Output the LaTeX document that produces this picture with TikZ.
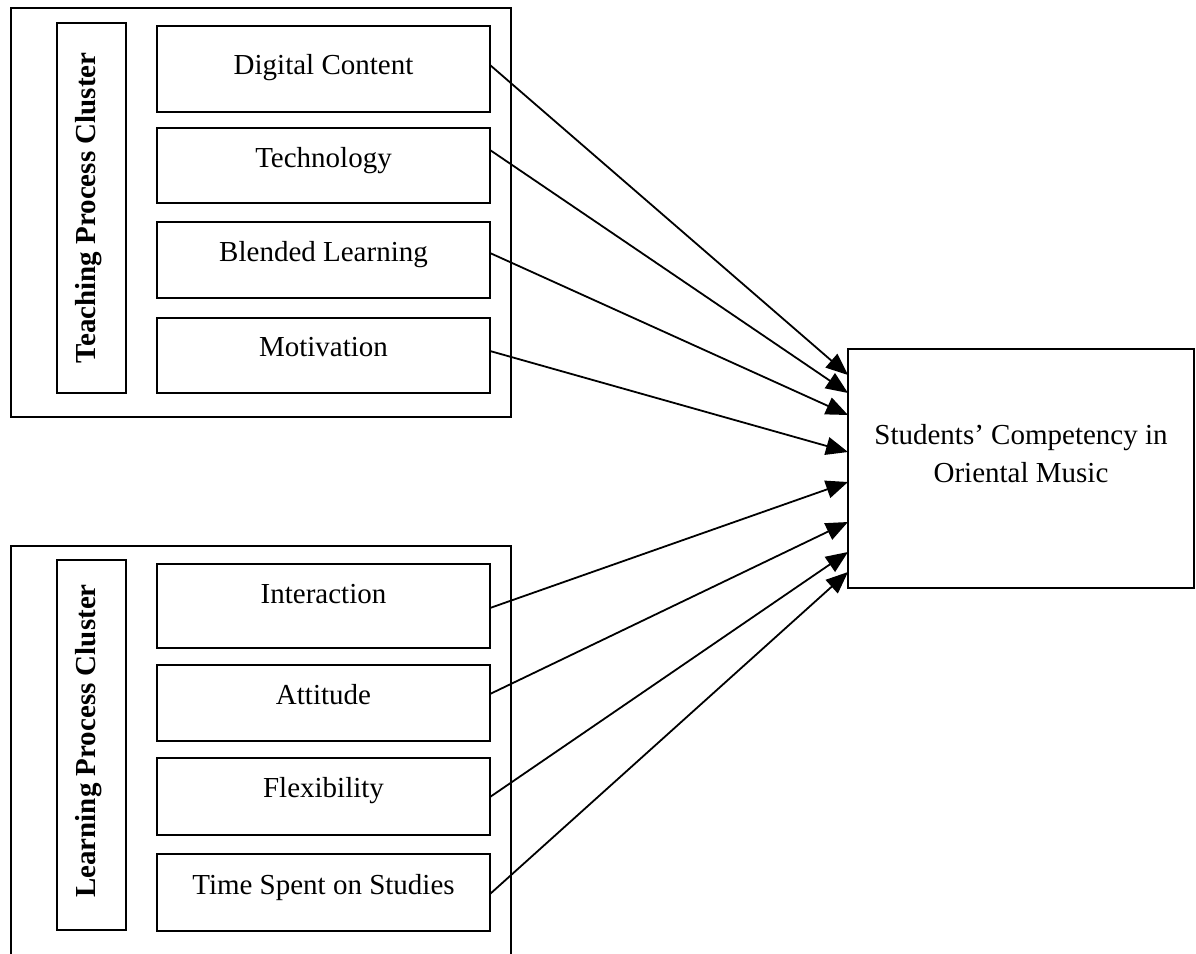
\documentclass[tikz,border=0pt]{standalone}
\usepackage{fontspec}
\setmainfont{Liberation Serif}
\usetikzlibrary{arrows.meta}

\tikzset{
  box/.style={draw, line width=1.8pt, rectangle, inner sep=0pt, outer sep=0pt},
  item/.style={box, minimum width=333pt, font=\fontsize{29}{38}\selectfont},
  labelbox/.style={box, minimum width=69pt, minimum height=370pt},
  cluster/.style={font=\fontsize{29}{38}\selectfont\bfseries, rotate=90, anchor=base, inner sep=0pt},
  arr/.style={line width=1.8pt, -{Triangle[length=22pt,width=18pt]}}
}

\begin{document}
\begin{tikzpicture}[x=1pt, y=-1pt]
\clip (0,0) rectangle (1196,953);
\fill[white] (0,0) rectangle (1196,953);

% Teaching process cluster
\node[box, minimum width=500pt, minimum height=409pt] (tframe) at (261,212.5) {};
\node[labelbox] (tlab) at (91.5,208) {};
\node[cluster] (tlabtext) at (95,208) {Teaching Process Cluster};
\node[item, minimum height=86pt, text height=48pt, text depth=38pt] (dc) at (323.5,69) {Digital Content};
\node[item, minimum height=75pt, text height=39pt, text depth=36pt] (tech) at (323.5,165.5) {Technology};
\node[item, minimum height=76pt, text height=39pt, text depth=37pt] (blend) at (323.5,260) {Blended Learning};
\node[item, minimum height=75pt, text height=38pt, text depth=37pt] (motiv) at (323.5,355.5) {Motivation};

% Learning process cluster
\node[box, minimum width=500pt, minimum height=429pt] (bframe) at (261,760.5) {};
\node[labelbox] (blab) at (91.5,745) {};
\node[cluster] (blabtext) at (95,741) {Learning Process Cluster};
\node[item, minimum height=84pt, text height=39pt, text depth=45pt] (inter) at (323.5,606) {Interaction};
\node[item, minimum height=76pt, text height=39pt, text depth=37pt] (att) at (323.5,703) {Attitude};
\node[item, minimum height=77pt, text height=39pt, text depth=38pt] (flex) at (323.5,796.5) {Flexibility};
\node[item, minimum height=77pt, text height=40pt, text depth=37pt] (time) at (323.5,892.5) {Time Spent on Studies};

% Outcome
\node[box, minimum width=346pt, minimum height=239pt] (target) at (1021,468.5) {};
\node[align=center, font=\fontsize{29}{38}\selectfont, inner sep=0pt] (targettext) at (1021,454)
  {Students’ Competency in\\Oriental Music};

% Connectors
\draw[arr] ([yshift=4pt]dc.east) -- ([yshift=93.5pt]target.west);
\draw[arr] ([yshift=15.5pt]tech.east) -- ([yshift=75.5pt]target.west);
\draw[arr] ([yshift=7pt]blend.east) -- ([yshift=53.5pt]target.west);
\draw[arr] ([yshift=4.5pt]motiv.east) -- ([yshift=16.5pt]target.west);
\draw[arr] ([yshift=-2pt]inter.east) -- ([yshift=-13.5pt]target.west);
\draw[arr] ([yshift=9pt]att.east) -- ([yshift=-53.5pt]target.west);
\draw[arr] ([yshift=-0.5pt]flex.east) -- ([yshift=-83.5pt]target.west);
\draw[arr] ([yshift=-1.5pt]time.east) -- ([yshift=-103.5pt]target.west);
\end{tikzpicture}
\end{document}
